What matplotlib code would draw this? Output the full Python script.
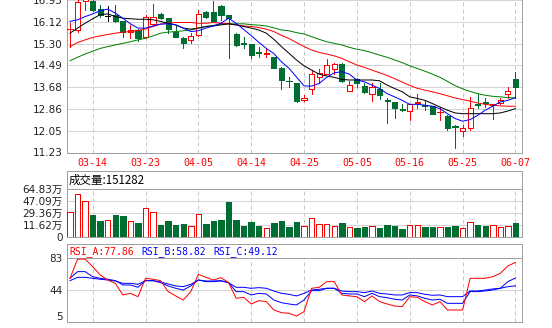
import matplotlib
matplotlib.use('Agg')
import matplotlib.pyplot as plt
import numpy as np

# ---- datos ----
fechas = ['03-09', '03-10', '03-13', '03-14', '03-15', '03-16', '03-17', '03-20', '03-21', '03-22',
          '03-23', '03-24', '03-27', '03-28', '03-29', '03-30', '03-31', '04-05', '04-06', '04-07',
          '04-10', '04-11', '04-12', '04-13', '04-14', '04-17', '04-18', '04-19', '04-20', '04-21',
          '04-24', '04-25', '04-26', '04-27', '04-28', '05-02', '05-03', '05-04', '05-05', '05-08',
          '05-09', '05-10', '05-11', '05-12', '05-15', '05-16', '05-17', '05-18', '05-19', '05-22',
          '05-23', '05-24', '05-25', '05-26', '05-31', '06-01', '06-02', '06-05', '06-06', '06-07']

opens = [15.84, 15.81, 16.90, 16.88, 16.59, 16.35, 16.38, 16.13, 15.75, 15.81,
         15.53, 16.04, 16.41, 16.25, 15.75, 15.50, 15.44, 15.63, 16.50, 16.48,
         16.71, 16.38, 15.66, 15.32, 15.27, 14.99, 14.92, 14.81, 14.40, 13.91,
         13.81, 13.18, 13.62, 14.04, 14.16, 14.34, 14.54, 13.53, 13.96, 13.71,
         13.43, 13.62, 13.20, 13.11, 12.85, 12.77, 13.07, 13.00, 12.96, 12.73,
         12.58, 12.22, 12.02, 12.15, 13.05, 13.10, 13.02, 13.08, 13.41, 13.97]
highs = [16.06, 16.95, 17.05, 16.94, 16.75, 16.69, 16.75, 16.13, 16.00, 15.84,
         16.38, 16.79, 16.44, 16.25, 15.94, 15.54, 15.69, 16.56, 16.53, 16.88,
         16.75, 16.38, 15.69, 15.56, 15.27, 15.19, 15.09, 14.81, 14.44, 14.04,
         13.81, 13.37, 14.31, 14.34, 14.71, 14.56, 14.56, 13.91, 14.00, 13.84,
         13.84, 13.81, 13.27, 13.11, 13.03, 13.03, 13.43, 13.21, 12.98, 12.93,
         12.62, 12.24, 12.24, 13.31, 13.41, 13.28, 13.06, 13.25, 13.66, 14.25]
lows = [15.16, 15.75, 16.56, 16.53, 16.31, 16.16, 16.09, 15.56, 15.50, 15.41,
        15.50, 15.94, 16.21, 15.69, 15.54, 15.15, 15.34, 15.59, 16.25, 16.13,
        16.19, 14.75, 15.22, 15.12, 14.75, 14.79, 14.81, 14.37, 13.62, 13.66,
        13.12, 13.15, 13.43, 13.81, 14.16, 14.16, 13.87, 13.53, 13.66, 13.46,
        13.16, 13.22, 12.33, 12.53, 12.78, 12.46, 12.91, 12.83, 12.66, 12.43,
        12.06, 11.39, 11.83, 12.08, 12.91, 12.93, 12.50, 13.06, 13.28, 13.28]
closes = [15.86, 16.84, 17.00, 16.56, 16.38, 16.35, 16.13, 15.75, 15.80, 15.50,
          16.31, 16.29, 16.25, 15.84, 15.54, 15.31, 15.59, 16.40, 16.29, 16.16,
          16.38, 16.25, 15.25, 15.30, 14.87, 14.96, 14.95, 14.40, 13.94, 13.89,
          13.16, 13.28, 14.16, 14.19, 14.49, 14.52, 13.91, 13.75, 13.81, 13.50,
          13.69, 13.37, 13.17, 12.91, 12.82, 13.03, 13.10, 12.97, 12.68, 12.76,
          12.16, 12.19, 12.16, 12.91, 13.02, 13.07, 13.05, 13.18, 13.53, 13.69]

# medias moviles (azul, negra, roja, verde)
ma5 = [16.13, 16.19, 16.31, 16.41, 16.53, 16.59, 16.44, 16.25, 16.04, 15.88,
       15.88, 15.96, 16.03, 16.04, 16.00, 15.88, 15.75, 15.78, 15.88, 15.96,
       16.06, 16.25, 16.06, 15.83, 15.60, 15.35, 15.12, 14.93, 14.62, 14.38,
       14.05, 13.72, 13.71, 13.81, 14.04, 14.21, 14.25, 14.16, 13.94, 13.87,
       13.75, 13.62, 13.43, 13.31, 13.18, 13.03, 13.03, 13.00, 12.96, 12.87,
       12.68, 12.50, 12.40, 12.46, 12.62, 12.81, 12.96, 13.12, 13.18, 13.28]
ma10 = [15.69, 15.88, 16.06, 16.23, 16.38, 16.41, 16.31, 16.25, 16.23, 16.21,
        16.21, 16.19, 16.13, 16.06, 16.00, 15.88, 15.84, 15.88, 15.94, 15.96,
        16.00, 16.04, 16.00, 15.94, 15.88, 15.81, 15.69, 15.46, 15.19, 14.94,
        14.69, 14.47, 14.31, 14.16, 14.09, 14.04, 13.96, 13.94, 13.94, 13.94,
        13.94, 13.91, 13.75, 13.62, 13.50, 13.31, 13.25, 13.18, 13.06, 12.93,
        12.81, 12.71, 12.68, 12.68, 12.68, 12.68, 12.68, 12.71, 12.78, 12.87]
ma20 = [15.19, 15.34, 15.44, 15.53, 15.59, 15.64, 15.69, 15.73, 15.75, 15.79,
        15.85, 15.94, 16.03, 16.06, 16.09, 16.09, 16.09, 16.06, 16.06, 16.09,
        16.06, 16.04, 16.00, 15.96, 15.94, 15.90, 15.84, 15.75, 15.61, 15.49,
        15.34, 15.19, 15.06, 14.97, 14.91, 14.84, 14.75, 14.62, 14.50, 14.41,
        14.31, 14.21, 14.11, 13.99, 13.86, 13.74, 13.63, 13.56, 13.50, 13.43,
        13.35, 13.27, 13.21, 13.15, 13.08, 13.03, 13.00, 12.97, 12.96, 12.96]
ma30 = [14.66, 14.79, 14.91, 15.02, 15.12, 15.19, 15.25, 15.31, 15.37, 15.44,
        15.50, 15.59, 15.69, 15.73, 15.75, 15.78, 15.81, 15.88, 15.94, 15.98,
        16.03, 16.04, 16.04, 16.04, 16.01, 15.99, 15.96, 15.89, 15.81, 15.78,
        15.71, 15.66, 15.56, 15.46, 15.37, 15.31, 15.25, 15.16, 15.09, 15.04,
        14.96, 14.87, 14.79, 14.69, 14.59, 14.47, 14.37, 14.27, 14.16, 14.04,
        13.89, 13.73, 13.61, 13.51, 13.43, 13.37, 13.33, 13.31, 13.28, 13.27]

# volumen en 万
volumen = [30.8, 57.9, 47.1, 26.9, 18.0, 19.0, 26.9, 25.4, 17.5, 15.6,
           36.8, 30.8, 12.1, 18.0, 12.1, 13.6, 10.1, 27.9, 13.6, 18.0,
           19.5, 46.1, 19.5, 10.6, 16.6, 10.6, 7.2, 15.6, 18.0, 9.2,
           16.6, 10.6, 22.0, 13.6, 13.6, 10.6, 15.1, 9.2, 7.7, 9.2,
           10.6, 7.7, 12.1, 10.6, 6.2, 12.1, 12.1, 9.2, 9.2, 9.2,
           9.2, 10.6, 7.7, 16.6, 12.1, 10.6, 12.1, 9.2, 10.6, 15.13]
ultimo_volumen = 151282

rsi_a = [58.4, 82.0, 82.0, 72.7, 62.5, 56.3, 52.2, 37.9, 39.9, 35.8,
         58.4, 57.2, 55.5, 42.0, 36.7, 31.7, 42.0, 63.3, 59.6, 56.3,
         59.2, 53.1, 33.8, 35.0, 26.8, 30.9, 29.7, 19.4, 16.1, 15.3,
         12.0, 17.4, 46.1, 47.3, 54.3, 54.3, 37.9, 36.7, 35.8, 29.7,
         36.7, 29.7, 26.8, 24.3, 23.5, 35.8, 35.0, 29.7, 25.6, 29.7,
         19.4, 19.4, 19.4, 58.4, 58.4, 58.4, 60.4, 64.5, 73.6, 77.86]
rsi_b = [58.4, 66.6, 66.6, 60.4, 58.4, 57.2, 55.5, 50.2, 50.2, 47.3,
         55.5, 55.5, 53.1, 49.0, 46.1, 44.0, 49.0, 56.3, 54.3, 54.3,
         55.1, 53.1, 42.0, 42.0, 37.9, 39.9, 39.1, 31.7, 28.4, 26.8,
         25.6, 31.7, 43.2, 43.2, 46.1, 46.1, 39.9, 39.1, 39.1, 35.8,
         39.9, 35.8, 34.6, 32.6, 31.7, 37.9, 36.7, 33.8, 31.7, 32.6,
         27.6, 27.6, 27.6, 42.0, 42.0, 42.8, 44.0, 46.1, 54.3, 58.82]
rsi_c = [55.5, 59.6, 59.6, 58.4, 57.2, 56.3, 55.1, 52.2, 52.2, 51.0,
         55.5, 55.5, 53.9, 51.4, 49.0, 48.1, 51.0, 56.3, 55.1, 55.1,
         55.5, 53.1, 47.3, 47.3, 46.1, 46.9, 46.1, 42.8, 39.9, 38.7,
         36.7, 39.9, 44.0, 44.9, 46.1, 46.1, 42.8, 42.0, 42.0, 40.8,
         42.8, 39.9, 39.1, 37.9, 37.9, 40.8, 40.8, 38.7, 37.5, 37.9,
         35.8, 35.8, 35.8, 42.8, 42.8, 44.0, 45.3, 46.1, 48.1, 49.12]

precio_ticks = [11.23, 12.05, 12.86, 13.68, 14.49, 15.30, 16.12, 16.93]
vol_ticks = [11.62, 29.36, 47.09, 64.83]
vol_base = -6.11
rsi_ticks = [5, 44, 83]

# ---- estilos ----
ROJO = '#ff0000'
VERDE = '#006e32'
GRIS = '#a0a0a0'
GRID = '#d4d4d4'
W, H = 552, 328
PX = 0.72


def rect(izq, arriba, der, abajo):
    return [izq / W, 1 - abajo / H, (der - izq) / W, (abajo - arriba) / H]


fig = plt.figure(figsize=(W / 100, H / 100), dpi=100)
fig.patch.set_facecolor('white')

ax_p = fig.add_axes(rect(67, 0, 522, 152.5))
ax_vt = fig.add_axes(rect(67, 171, 522, 189.3))
ax_v = fig.add_axes(rect(67, 189.3, 522, 237.3))
ax_rt = fig.add_axes(rect(67, 244.3, 522, 258.3))
ax_r = fig.add_axes(rect(67, 258.3, 522, 321.7))

x = np.arange(len(closes))
o = np.array(opens)
c = np.array(closes)
marcas = list(range(3, len(x), 7))

# colores de las velas
bordes, rellenos = [], []
for oi, ci in zip(o, c):
    if ci > oi:
        bordes.append(ROJO); rellenos.append('white')
    elif ci < oi:
        bordes.append(VERDE); rellenos.append(VERDE)
    else:
        bordes.append('black'); rellenos.append('black')

for ax in [ax_p, ax_v, ax_r, ax_vt, ax_rt]:
    ax.set_xlim(-0.4, 59.87)
    for s in ax.spines.values():
        s.set_color(GRIS)
        s.set_linewidth(PX)
    ax.tick_params(length=0)
    ax.set_facecolor('white')

for ax in [ax_p, ax_v, ax_r]:
    ax.set_xticks(x[marcas])
    ax.grid(axis='x', color='#c8c8c8', linewidth=PX, linestyle=(0, (4, 3)))
    ax.set_axisbelow(True)

# ---- panel de precios ----
ax_p.spines['top'].set_visible(False)
ax_p.vlines(x, lows, highs, colors=bordes, linewidth=PX, zorder=2, antialiased=False)
ax_p.bar(x, np.abs(c - o), bottom=np.minimum(o, c), width=0.68, color=rellenos,
         edgecolor=bordes, linewidth=PX, zorder=3, antialiased=False)
ax_p.plot(x, ma30, color='#008000', linewidth=PX, zorder=4)
ax_p.plot(x, ma20, color=ROJO, linewidth=PX, zorder=4)
ax_p.plot(x, ma10, color='black', linewidth=PX, zorder=4)
ax_p.plot(x, ma5, color='#0000ff', linewidth=PX, zorder=4)
ax_p.set_ylim(precio_ticks[0], precio_ticks[-1])
ax_p.set_yticks(precio_ticks)
ax_p.set_yticklabels([f'{t:.2f}' for t in precio_ticks])
ax_p.grid(axis='y', color=GRID, linewidth=PX, linestyle='-')
ax_p.set_xticklabels([fechas[i] for i in marcas], family='DejaVu Sans Mono',
                     fontsize=7.2, color=ROJO)
ax_p.tick_params(axis='x', pad=4)
ax_p.tick_params(axis='y', labelsize=7.5, labelcolor='#222222', pad=3)

# ---- titulo del volumen ----
ax_vt.set_xticks([])
ax_vt.set_yticks([])
fig.text(69 / W, 1 - 180.5 / H, f'成交量:{ultimo_volumen}', family=['Noto Sans CJK SC', 'DejaVu Sans'],
         fontsize=8.3, va='center', ha='left', color='black')

# ---- panel de volumen ----
v = np.array(volumen)
vol_colores = [ROJO if ci >= oi else VERDE for oi, ci in zip(o, c)]
vol_rellenos = ['white' if ci >= oi else VERDE for oi, ci in zip(o, c)]
ax_v.bar(x, v - vol_base, bottom=vol_base, width=0.72, color=vol_rellenos,
         edgecolor=vol_colores, linewidth=PX, zorder=3, antialiased=False)
ax_v.set_ylim(vol_base, vol_ticks[-1])
ax_v.set_yticks([vol_base] + vol_ticks)
ax_v.set_yticklabels(['0'] + [f'{t:.2f}万' for t in vol_ticks],
                     family=['DejaVu Sans', 'Noto Sans CJK SC'])
ax_v.grid(axis='y', color=GRID, linewidth=PX, linestyle='-')
ax_v.tick_params(axis='y', labelsize=7.5, labelcolor='#222222', pad=3)
ax_v.set_xticklabels([])

# ---- titulo del RSI ----
ax_rt.set_xticks([])
ax_rt.set_yticks([])
titulos = [(f'RSI_A:{rsi_a[-1]:.2f}', ROJO, 69),
           (f'RSI_B:{rsi_b[-1]:.2f}', '#0000ff', 141),
           (f'RSI_C:{rsi_c[-1]:.2f}', '#0000ff', 213.5)]
for txt, col, xp in titulos:
    fig.text(xp / W, 1 - 251.5 / H, txt, family='DejaVu Sans Mono', fontsize=7,
             color=col, va='center', ha='left')

# ---- panel RSI ----
ax_r.plot(x, rsi_c, color='#0000ff', linewidth=PX, zorder=3)
ax_r.plot(x, rsi_b, color='#0000ff', linewidth=PX, zorder=3)
ax_r.plot(x, rsi_a, color=ROJO, linewidth=PX, zorder=4)
ax_r.set_ylim(rsi_ticks[0], rsi_ticks[-1])
ax_r.set_yticks(rsi_ticks)
ax_r.set_yticklabels([str(t) for t in rsi_ticks])
ax_r.grid(axis='y', color=GRID, linewidth=PX, linestyle='-')
ax_r.tick_params(axis='y', labelsize=7.5, labelcolor='#222222', pad=3)
ax_r.set_xticklabels([])
ax_r.get_yticklabels()[0].set_va('bottom')

fig.savefig('out.png', dpi=100, facecolor='white')
